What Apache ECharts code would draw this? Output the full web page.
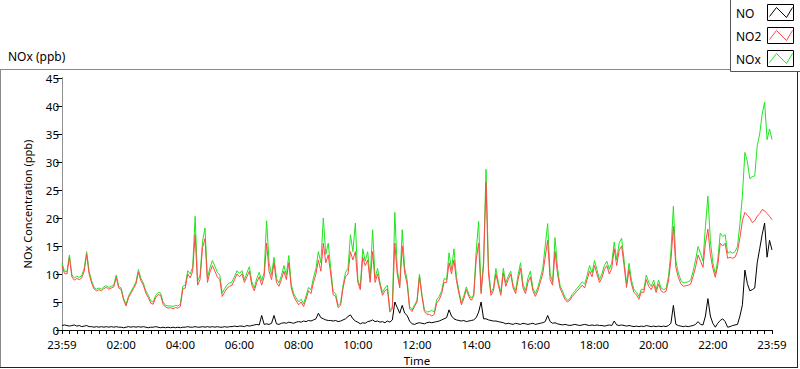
<!DOCTYPE html>
<html>
<head>
<meta charset="utf-8">
<script src="https://cdn.jsdelivr.net/npm/echarts@6/dist/echarts.min.js"></script>
<style>html,body{margin:0;padding:0;background:#fff}#c{width:800px;height:369px}</style>
</head>
<body>
<div id="c"></div>
<script>
// Sampling step (minutes after the 23:59 start)
var stepMinutes = 5;
var seriesNames = ['NO', 'NO2', 'NOx'];
var xTickLabels = ['23:59','02:00','04:00','06:00','08:00','10:00','12:00','14:00','16:00','18:00','20:00','22:00','23:59'];

var no2 = [
 11.5,10.1,10.0,13.0,9.5,8.9,9.2,9.0,9.3,10.5,
 13.5,10,8.4,7.3,7.0,7.2,7.0,7.4,7.6,7.3,
 7.5,7.7,9.4,7.5,7.2,5.3,4.3,5.8,6.6,7.4,
 8.2,10.3,8.8,8.0,6.6,5.8,4.8,4.6,5.8,6.3,
 6.2,4.6,4.1,3.9,4.0,3.8,4.0,3.9,4.2,7.3,
 7.5,10.0,9.3,10.5,17.0,8.0,9.0,14.7,16.3,8.5,
 10.3,11.5,10.5,9.5,9.0,6.0,6.8,7.5,7.8,8.0,
 9.0,10.0,9.5,
 10,8.5,9.5,10.5,8.0,7.0,8.5,9.5,8.0,9.5,
 15.5,10.5,9.0,12,8.5,7.8,9.0,10.5,9.0,12,
 7.5,6.0,5.2,4.5,5.0,4.2,5.5,7.0,6.5,8.5,
 10,12.5,10.5,15.5,12,13.4,
 10,6.3,6.0,4.0,4.4,7.5,9.5,10,14,12.5,
 14,8.5,7.2,13,11.5,12.5,8.5,14,8.5,10,
 8,6.2,7,7.3,3.2,3.8,15.5,10,7.5,15,
 10.2,8.2,3.8,3.3,4.2,5,9.5,6,3.3,2.8,
 2.8,2.5,2.8,4.8,5.4,6.5,8.5,8.5,12,10,
 12.5,8.8,6.5,4.5,5.6,7.2,6,5.3,6,12.5,
 15.5,6.5,11.5,26.3,10,6.2,7,10,8,6.2,
 10.2,7.8,9,
 10,7.5,6.5,9,11,7.5,6.5,8.5,9.5,7,
 6,7,8.5,10,13,16,9,8,14,10,
 7.5,6.5,5.5,5,5.3,6,6.5,7,7.5,8,
 7.5,9,10.5,9.5,11.5,10,8.5,
 9.3,10.8,11.5,10,11,14.5,11.5,14.2,15,11.5,
 7.6,10.8,8.2,6.7,6.3,5.5,6.8,6.7,9,7.8,
 7.2,8.2,6.7,8.2,7,6.7,6.9,8.7,12.5,18.5,
 11.2,9.4,8.3,7.8,7.9,8,8.2,9.6,11.2,13.4,
 12.3,11.2,15.5,18,13.5,11,9.4,11.5,15.5,15,
 15.5,12.8,13,12.8,13,14,16.5,19.5,21,20.5,
 20,19.2,19.5,20.3,20.8,21.5,21.3,20.8,20.3,19.7];

var nox = [
 12.0,10.5,10.4,13.4,9.9,9.3,9.6,9.4,9.7,11.0,
 14.0,10.5,8.8,7.6,7.3,7.5,7.3,7.7,7.9,7.6,
 7.8,8.0,9.8,7.8,7.5,5.6,4.6,6.1,6.9,7.7,
 8.6,10.8,9.2,8.4,7.0,6.2,5.2,5.0,6.2,6.7,
 6.6,5.0,4.4,4.3,4.3,4.2,4.4,4.3,4.6,7.8,
 8.0,10.6,10.0,11.2,20.3,8.7,9.8,15.8,18.2,9.3,
 11.1,12.4,11.4,10.3,9.8,6.6,7.4,8.1,8.4,8.6,
 9.6,10.6,10.1,
 10.6,9,10.2,11.3,8.6,7.5,9.2,10.3,8.8,10.3,
 19.5,12,9.8,13,9.2,8.4,9.7,11.5,9.8,13.3,
 8.1,6.5,5.7,5.0,5.5,4.7,6.1,7.6,7.2,9.3,
 11,14,12,20,13.5,15.5,
 11,6.8,6.5,4.4,4.8,8,10.3,11,17,14,
 19.1,9,7.7,14.5,12.3,14,9.2,17.9,9.2,11,
 8.5,6.7,7.5,8,3.6,4.1,21,10.8,8,17.9,
 11,9,4.2,3.6,4.5,5.3,10,6.4,3.6,3.2,
 3.3,3.5,3.2,5.4,6,7,9.2,9,13.8,10.8,
 14.5,9.5,7,4.9,6.1,7.7,6.4,5.7,6.3,14,
 19.4,7,12.3,28.7,11,6.7,7.5,11,8.5,6.7,
 11,8.4,9.6,
 10.5,8,7,9.8,12,8.2,7,9.3,10.5,7.5,
 6.5,7.6,9.2,11,15,19,10,8.6,16.5,11,
 8,7,5.9,5.3,5.6,6.4,6.9,7.5,8,8.6,
 8.2,9.7,11.5,10.2,12.4,10.8,9,
 10,11.5,12.3,10.8,12,15.7,12.5,15.5,16.4,12.5,
 8.2,11.9,8.9,7.2,6.8,6,7.3,7.2,9.8,8.5,
 7.8,8.9,7.2,8.9,7.5,7.2,7.4,9.5,14,22.1,
 12.3,10.2,8.9,8.4,8.5,8.6,8.9,10.5,12.5,14.9,
 13.7,12.3,18.5,23.9,16,12,10,12.5,17.3,16.7,
 17,13.7,14,13.7,14,14.9,19,24,31.7,30.1,
 27,27.4,27.5,32.9,35,38.5,40.7,34,35.9,34];

var no = [
 0.8,0.9,0.8,0.7,0.8,0.9,0.7,0.8,0.6,0.7,
 0.8,0.6,0.6,0.5,0.6,0.5,0.6,0.5,0.6,0.5,
 0.6,0.5,0.6,0.5,0.5,0.4,0.5,0.6,0.5,0.6,
 0.5,0.6,0.5,0.6,0.5,0.4,0.5,0.5,0.6,0.5,
 0.4,0.5,0.4,0.5,0.4,0.5,0.4,0.5,0.4,0.5,
 0.5,0.6,0.5,0.5,0.6,0.5,0.5,0.6,0.5,0.6,
 0.5,0.6,0.5,0.6,0.5,0.5,0.6,0.5,0.6,0.6,
 0.7,0.6,0.7,
 0.7,0.6,0.8,0.7,0.8,0.9,1.0,0.9,2.6,1.0,
 1.1,1.0,1.2,2.6,1.1,1.0,1.2,1.3,1.2,1.4,
 1.3,1.2,1.4,1.5,1.4,1.6,1.5,1.7,1.6,1.8,
 2.0,3.0,2.2,2.0,1.8,1.7,
 1.7,1.6,1.7,1.5,1.6,1.8,2.0,2.4,2.7,2.0,
 1.6,1.4,1.1,1.3,1.2,1.5,1.6,1.8,1.5,1.6,
 1.4,1.5,1.3,1.6,1.4,1.8,5.0,4.0,3.0,4.4,
 3.0,2.6,1.6,1.1,1.0,1.2,1.3,1.2,1.1,1.3,
 1.4,1.3,1.4,1.5,1.6,1.8,2.0,2.2,3.6,2.5,
 2.0,1.8,1.7,1.6,1.7,1.5,1.6,1.7,1.8,2.2,
 3.2,5.0,2.0,2.0,1.8,1.7,1.6,1.6,1.5,1.4,
 1.3,1.1,1.2,
 1.1,1.0,1.2,1.1,1.0,1.2,1.1,1.0,1.1,1.2,
 1.0,1.1,1.2,1.3,1.5,2.6,1.5,1.2,1.3,1.1,
 1.0,0.9,1.0,0.9,0.8,0.9,1.0,0.9,0.8,0.9,
 1.0,0.9,0.8,0.9,0.8,0.9,0.8,
 0.8,0.7,0.8,0.9,0.8,1.6,0.9,0.8,0.9,0.8,
 0.7,0.8,0.7,0.6,0.7,0.6,0.7,0.6,0.8,0.7,
 0.6,0.7,0.6,0.7,0.6,0.7,0.6,0.8,1.2,4.4,
 1.0,0.8,0.7,0.6,0.7,0.6,0.7,0.8,1.0,1.5,
 1.0,0.9,2.5,5.6,2.5,1.2,0.5,1.2,1.7,2.0,
 1.5,0.5,0.6,0.8,0.9,1.0,2.5,4.5,10.7,8.3,
 7,7.2,7.5,12,14.5,17,19.1,13,16,14.3];

function pairs(vals){ var out=[]; for(var i=0;i<vals.length;i++){ out.push([i*stepMinutes, vals[i]]); } return out; }

var chart = echarts.init(document.getElementById('c'), null, {renderer:'svg'});
var FONT = 'Noto Sans';
function zig(x,y,color){
  return {type:'polyline', shape:{points:[[x+2,y+12],[x+9,y+3],[x+19,y+13],[x+25,y+3]]}, style:{stroke:color, lineWidth:1, fill:null}, z:20};
}
var legendGraphics = [
  {type:'rect', shape:{x:730.5,y:-1,width:70,height:72.5}, style:{fill:'#fff', stroke:'#555', lineWidth:1}, z:10},
  {type:'rect', shape:{x:767.5,y:4.5,width:26,height:16}, style:{fill:'#fff', stroke:'#000', lineWidth:1}, z:11},
  {type:'rect', shape:{x:767.5,y:27.5,width:26,height:16}, style:{fill:'#fff', stroke:'#000', lineWidth:1}, z:11},
  {type:'rect', shape:{x:767.5,y:50.5,width:26,height:16}, style:{fill:'#fff', stroke:'#000', lineWidth:1}, z:11},
  zig(767.5,4.5,'#000'), zig(767.5,27.5,'#ff4848'), zig(767.5,50.5,'#1ee61e'),
  {type:'text', style:{x:736, y:13, text:seriesNames[0], font:'12px '+FONT, fill:'#000', textVerticalAlign:'middle'}, z:12},
  {type:'text', style:{x:736, y:36, text:seriesNames[1], font:'12px '+FONT, fill:'#000', textVerticalAlign:'middle'}, z:12},
  {type:'text', style:{x:736, y:59, text:seriesNames[2], font:'12px '+FONT, fill:'#000', textVerticalAlign:'middle'}, z:12}
];
var frame = [
  {type:'line', shape:{x1:0,y1:69.5,x2:731,y2:69.5}, style:{stroke:'#8a8a8a', lineWidth:1}, z:5},
  {type:'line', shape:{x1:0.5,y1:69.5,x2:0.5,y2:368}, style:{stroke:'#8a8a8a', lineWidth:1}, z:5},
  {type:'line', shape:{x1:0,y1:367.5,x2:798,y2:367.5}, style:{stroke:'#222', lineWidth:1}, z:5},
  {type:'line', shape:{x1:797.5,y1:71,x2:797.5,y2:368}, style:{stroke:'#222', lineWidth:1}, z:5}
];

function xLabel(v){
  if (v % 120 !== 0 && v !== 1440) return '';
  var idx = Math.round(v/120);
  return xTickLabels[idx] || '';
}

chart.setOption({
  animation:false,
  title:{text:'NOx (ppb)', left:3, top:45, textStyle:{fontFamily:FONT, fontSize:12, fontWeight:'normal', color:'#000'}},
  grid:{left:62, right:28, top:78, bottom:39, containLabel:false, outerBoundsMode:'none'},
  graphic: frame.concat(legendGraphics),
  xAxis:[{
    type:'value', min:0, max:1440, interval:15,
    name:'Time', nameLocation:'middle', nameGap:24,
    nameTextStyle:{fontFamily:FONT, fontSize:11.5, color:'#000'},
    axisLine:{show:true, lineStyle:{color:'#a0a0a0', width:1}},
    axisTick:{show:true, length:4, lineStyle:{color:'#000'}},
    axisLabel:{formatter:xLabel, margin:8, fontFamily:FONT, fontSize:11.5, color:'#000', showMinLabel:true, showMaxLabel:true, hideOverlap:false},
    splitLine:{show:false}
  },{
    type:'value', position:'top', min:0, max:1440,
    axisLine:{show:true, lineStyle:{color:'#000', width:1}},
    axisTick:{show:false}, axisLabel:{show:false}, splitLine:{show:false}
  }],
  yAxis:[{
    type:'value', min:0, max:45, interval:5,
    name:'NOx Concentration (ppb)', nameLocation:'middle', nameGap:29, nameRotate:90,
    nameTextStyle:{fontFamily:FONT, fontSize:11, color:'#000'},
    axisLine:{show:true, lineStyle:{color:'#000', width:1}},
    axisTick:{show:true, length:6, lineStyle:{color:'#000'}},
    axisLabel:{margin:3, fontFamily:FONT, fontSize:11.5, color:'#000'},
    splitLine:{show:false}
  },{
    type:'value', position:'right', min:0, max:45,
    axisLine:{show:true, lineStyle:{color:'#909090', width:1}},
    axisTick:{show:false}, axisLabel:{show:false}, splitLine:{show:false}
  }],
  series:[
    {name:seriesNames[2], type:'line', data:pairs(nox), showSymbol:false, symbol:'none', lineStyle:{color:'#1ee61e', width:1}, z:2},
    {name:seriesNames[1], type:'line', data:pairs(no2), showSymbol:false, symbol:'none', lineStyle:{color:'#ff4848', width:1}, z:3},
    {name:seriesNames[0], type:'line', data:pairs(no), showSymbol:false, symbol:'none', lineStyle:{color:'#000', width:1}, z:4}
  ]
});
</script>
</body>
</html>
